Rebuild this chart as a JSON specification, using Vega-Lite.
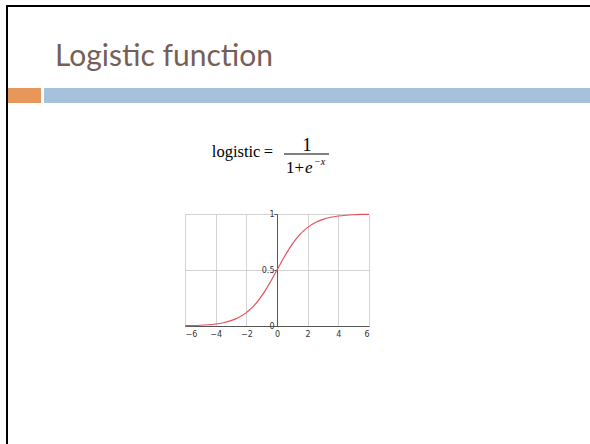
{
  "$schema": "https://vega.github.io/schema/vega-lite/v6.json",
  "background": "white",
  "padding": {"left": 6, "top": 5, "right": 0, "bottom": 0},
  "spacing": 0,
  "bounds": "flush",
  "config": {
    "view": {"stroke": null},
    "concat": {"spacing": 0}
  },
  "hconcat": [
    {
      "width": 2,
      "height": 439,
      "data": {"values": [{"strip": "left border"}]},
      "mark": {"type": "rect", "color": "#000000"}
    },
    {
      "spacing": 0,
      "bounds": "flush",
      "vconcat": [
        {
          "width": 582,
          "height": 2,
          "data": {"values": [{"strip": "top border"}]},
          "mark": {"type": "rect", "color": "#000000"}
        },
        {
          "width": 582,
          "height": 81,
          "data": {"values": []},
          "mark": "rect"
        },
        {
          "spacing": 3,
          "bounds": "flush",
          "hconcat": [
            {
              "width": 33,
              "height": 15,
              "data": {"values": [{"strip": "accent"}]},
              "mark": {"type": "rect", "color": "#E8975B"}
            },
            {
              "width": 546,
              "height": 15,
              "title": {
                "text": "Logistic function",
                "anchor": "start",
                "frame": "group",
                "orient": "top",
                "dx": 11,
                "offset": -8,
                "baseline": "alphabetic",
                "font": "Lato",
                "fontSize": 30,
                "fontWeight": "normal",
                "color": "#765F57"
              },
              "data": {"values": [{"strip": "header rule"}]},
              "mark": {"type": "rect", "color": "#A5C2DA"}
            }
          ]
        },
        {
          "width": 582,
          "height": 15,
          "data": {"values": []},
          "mark": "rect"
        },
        {
          "spacing": 0,
          "bounds": "flush",
          "hconcat": [
            {
              "width": 177,
              "height": 1,
              "data": {"values": []},
              "mark": "rect"
            },
            {
              "spacing": 9,
              "bounds": "flush",
              "vconcat": [
                {
                  "width": 184,
                  "height": 102,
                  "data": {"values": [{"lhs": "logistic\u2009=", "num": "1", "den": "1+", "base": "e", "power": "−x"}]},
                  "layer": [
                    {
                      "mark": {"type": "text", "font": "Liberation Serif", "fontSize": 16.5, "align": "right", "baseline": "alphabetic", "dx": -4, "dy": 3, "color": "#000"},
                      "encoding": {"text": {"field": "lhs"}}
                    },
                    {
                      "mark": {"type": "tick", "orient": "horizontal", "size": 45, "thickness": 1, "xOffset": 29.5, "color": "#000", "opacity": 1},
                      "encoding": {}
                    },
                    {
                      "mark": {"type": "text", "font": "Liberation Serif", "fontSize": 19, "align": "center", "baseline": "alphabetic", "dx": 30, "dy": -3, "color": "#000"},
                      "encoding": {"text": {"field": "num"}}
                    },
                    {
                      "mark": {"type": "text", "font": "Liberation Serif", "fontSize": 17, "align": "left", "baseline": "alphabetic", "dx": 9, "dy": 19, "color": "#000"},
                      "encoding": {"text": {"field": "den"}}
                    },
                    {
                      "mark": {"type": "text", "font": "Liberation Serif", "fontSize": 17, "fontStyle": "italic", "align": "left", "baseline": "alphabetic", "dx": 28, "dy": 19, "color": "#000"},
                      "encoding": {"text": {"field": "base"}}
                    },
                    {
                      "mark": {"type": "text", "font": "Liberation Serif", "fontSize": 10, "fontStyle": "italic", "align": "left", "baseline": "alphabetic", "dx": 37, "dy": 11, "color": "#000"},
                      "encoding": {"text": {"field": "power"}}
                    }
                  ]
                },
                {
                  "width": 184,
                  "height": 112,
                  "data": {
                    "values": [
                      {"x": -6, "y": 0.00247},
                      {"x": -5.5, "y": 0.00407},
                      {"x": -5, "y": 0.00669},
                      {"x": -4.5, "y": 0.01099},
                      {"x": -4, "y": 0.01799},
                      {"x": -3.5, "y": 0.02931},
                      {"x": -3, "y": 0.04743},
                      {"x": -2.5, "y": 0.07586},
                      {"x": -2, "y": 0.1192},
                      {"x": -1.75, "y": 0.148},
                      {"x": -1.5, "y": 0.18243},
                      {"x": -1.25, "y": 0.2227},
                      {"x": -1, "y": 0.26894},
                      {"x": -0.75, "y": 0.3208},
                      {"x": -0.5, "y": 0.37754},
                      {"x": -0.25, "y": 0.4378},
                      {"x": 0, "y": 0.5},
                      {"x": 0.25, "y": 0.5622},
                      {"x": 0.5, "y": 0.62246},
                      {"x": 0.75, "y": 0.6792},
                      {"x": 1, "y": 0.73106},
                      {"x": 1.25, "y": 0.7773},
                      {"x": 1.5, "y": 0.81757},
                      {"x": 1.75, "y": 0.852},
                      {"x": 2, "y": 0.8808},
                      {"x": 2.5, "y": 0.92414},
                      {"x": 3, "y": 0.95257},
                      {"x": 3.5, "y": 0.97069},
                      {"x": 4, "y": 0.98201},
                      {"x": 4.5, "y": 0.98901},
                      {"x": 5, "y": 0.99331},
                      {"x": 5.5, "y": 0.99593},
                      {"x": 6, "y": 0.99753}
                    ]
                  },
                  "mark": {"type": "line", "color": "#E4505C", "strokeWidth": 1.2, "interpolate": "monotone"},
                  "encoding": {
                    "x": {
                      "field": "x",
                      "type": "quantitative",
                      "scale": {"domain": [-6, 6], "nice": false, "zero": false},
                      "axis": {
                        "title": null,
                        "values": [-6, -4, -2, 0, 2, 4, 6],
                        "grid": true,
                        "gridColor": "#C8C8C8",
                        "gridWidth": 0.8,
                        "domainColor": "#555555",
                        "domainWidth": 1,
                        "ticks": false,
                        "labelFont": "DejaVu Sans",
                        "labelFontSize": 8,
                        "labelColor": "#333333",
                        "labelPadding": 4
                      }
                    },
                    "y": {
                      "field": "y",
                      "type": "quantitative",
                      "scale": {"domain": [0, 1], "nice": false},
                      "axis": {
                        "title": null,
                        "values": [0, 0.5, 1],
                        "format": "~g",
                        "offset": -92,
                        "grid": true,
                        "gridColor": "#C8C8C8",
                        "gridWidth": 0.8,
                        "domainColor": "#555555",
                        "domainWidth": 1,
                        "tickColor": "#555555",
                        "tickSize": 3,
                        "labelFont": "DejaVu Sans",
                        "labelFontSize": 8,
                        "labelColor": "#333333",
                        "labelPadding": 0
                      }
                    }
                  }
                }
              ]
            }
          ]
        }
      ]
    }
  ]
}
